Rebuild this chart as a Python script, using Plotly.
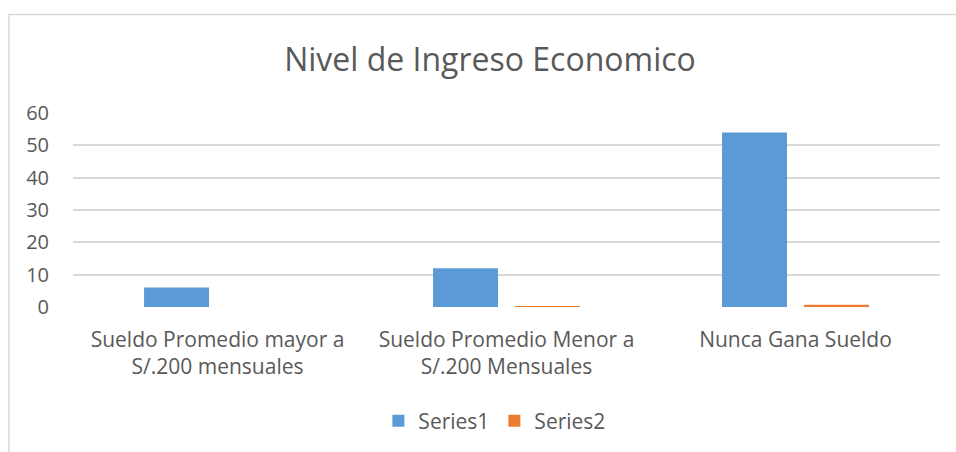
import plotly.graph_objects as go

categories = ["Sueldo Promedio mayor a<br>S/.200 mensuales",
              "Sueldo Promedio Menor a<br>S/.200 Mensuales",
              "Nunca Gana Sueldo"]
series1 = [6, 12, 54]
series2 = [0, 0.05, 0.7]
yticks = [0, 10, 20, 30, 40, 50, 60]

W, H = 956, 452
L, R, T, B = 73, 16, 113, 144
ph = H - T - B

FONT = "Open Sans"
TXT = "#595959"
GRID = "#d9d9d9"

fig = go.Figure()
fig.add_trace(go.Bar(name="Series1", x=categories, y=series1,
                     marker=dict(color="#5b9bd5", line=dict(width=0))))
fig.add_trace(go.Bar(name="Series2", x=categories, y=series2,
                     marker=dict(color="#ed7d31", line=dict(width=0))))

fig.update_layout(
    width=W, height=H,
    margin=dict(l=L, r=R, t=T, b=B, pad=0),
    paper_bgcolor="white", plot_bgcolor="white",
    barmode="group", bargap=0.433, bargroupgap=0.207,
    font=dict(family=FONT, color=TXT, size=20),
    title=dict(text="Nivel de Ingreso Economico", x=490 / W, xanchor="center",
               y=1 - 60 / H, yanchor="middle", yref="container",
               font=dict(family=FONT, size=32, color=TXT)),
    legend=dict(orientation="h", x=0.486, xanchor="center",
                y=(308 - 421) / ph, yanchor="middle",
                font=dict(family=FONT, size=21, color=TXT),
                itemsizing="constant"),
    showlegend=True,
)
fig.update_yaxes(range=[0, 60], tickvals=yticks, showgrid=True, gridcolor=GRID,
                 gridwidth=1.5, zeroline=False, showline=False, ticks="",
                 ticklabelstandoff=23,
                 tickfont=dict(family=FONT, size=20, color=TXT))
fig.update_xaxes(showgrid=False, showline=False, ticks="", zeroline=False,
                 ticklabelstandoff=18,
                 tickfont=dict(family=FONT, size=21, color=TXT))

fig.add_shape(type="rect", xref="paper", yref="paper",
              x0=(9 - L) / (W - L - R), x1=(W + 20 - L) / (W - L - R),
              y0=(308 - H - 20) / ph, y1=(308 - 14) / ph,
              line=dict(color=GRID, width=1.5), fillcolor="rgba(0,0,0,0)", layer="below")

fig.write_html("out.html", config={"displayModeBar": False},
               post_script="document.body.style.margin='0';document.body.style.padding='0';")
